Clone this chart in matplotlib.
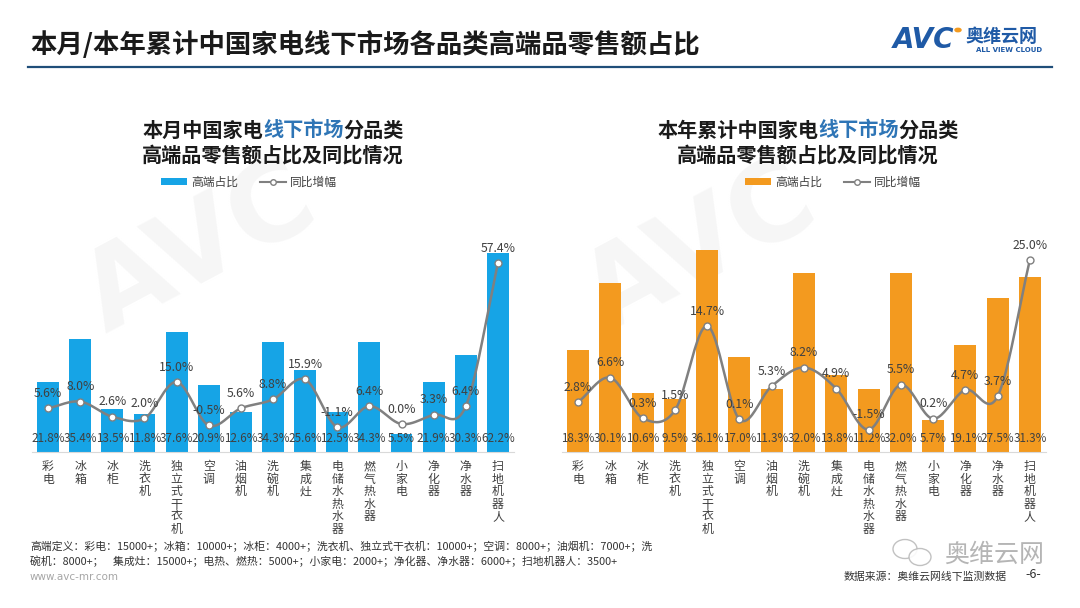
import numpy as np
import matplotlib
matplotlib.use("Agg")
import matplotlib.pyplot as plt
from matplotlib.patches import Patch, Ellipse
from matplotlib.lines import Line2D

plt.rcParams['font.family'] = ['Noto Sans CJK SC', 'DejaVu Sans']

categories = ['彩电', '冰箱', '冰柜', '洗衣机', '独立式干衣机', '空调', '油烟机', '洗碗机',
              '集成灶', '电储水热水器', '燃气热水器', '小家电', '净化器', '净水器', '扫地机器人']
month_share = [21.8, 35.4, 13.5, 11.8, 37.6, 20.9, 12.6, 34.3, 25.6, 12.5, 34.3, 5.5, 21.9, 30.3, 62.2]
month_yoy = [5.6, 8.0, 2.6, 2.0, 15.0, -0.5, 5.6, 8.8, 15.9, -1.1, 6.4, 0.0, 3.3, 6.4, 57.4]
ytd_share = [18.3, 30.1, 10.6, 9.5, 36.1, 17.0, 11.3, 32.0, 13.8, 11.2, 32.0, 5.7, 19.1, 27.5, 31.3]
ytd_yoy = [2.8, 6.6, 0.3, 1.5, 14.7, 0.1, 5.3, 8.2, 4.9, -1.5, 5.5, 0.2, 4.7, 3.7, 25.0]

BLUE = '#16A4E6'
ORANGE = '#F39A1F'
LINE = '#808080'
TXT = '#404040'
HILITE = '#2E75B6'

W, H = 1080, 608
fig = plt.figure(figsize=(W / 100, H / 100), dpi=100)
fig.patch.set_facecolor('white')


def fx(x):
    return x / W


def fy(y):
    return 1 - y / H


def smooth(xs, ys, n=24):
    xs = np.asarray(xs, float)
    ys = np.asarray(ys, float)
    m = len(xs)
    mx = np.zeros(m)
    my = np.zeros(m)
    for i in range(m):
        a = max(i - 1, 0)
        b = min(i + 1, m - 1)
        mx[i] = (xs[b] - xs[a]) / (b - a)
        my[i] = (ys[b] - ys[a]) / (b - a)
    ox, oy = [], []
    t = np.linspace(0, 1, n)
    h00 = 2 * t**3 - 3 * t**2 + 1
    h10 = t**3 - 2 * t**2 + t
    h01 = -2 * t**3 + 3 * t**2
    h11 = t**3 - t**2
    for i in range(m - 1):
        ox.append(h00 * xs[i] + h10 * mx[i] + h01 * xs[i + 1] + h11 * mx[i + 1])
        oy.append(h00 * ys[i] + h10 * my[i] + h01 * ys[i + 1] + h11 * my[i + 1])
    return np.concatenate(ox), np.concatenate(oy)


# Faint watermarks
for (x, y) in [(200, 250), (700, 250)]:
    fig.text(fx(x), fy(y), 'AVC', fontsize=80, fontweight='bold', color='#F6F6F6',
             rotation=28, ha='center', va='center', zorder=-5, family='DejaVu Sans')


def panel(left_px, right_px, share, yoy, color, bar_max, line_min, line_max):
    top, bottom = 228, 452
    ax = fig.add_axes([fx(left_px), fy(bottom), (right_px - left_px) / W, (bottom - top) / H])
    ax.set_facecolor('none')
    x = np.arange(len(categories))
    ax.bar(x, share, width=0.68, color=color, zorder=2)
    ax.set_xlim(-0.5, len(categories) - 0.5)
    ax.set_ylim(0, bar_max)
    for s in ['top', 'right', 'left']:
        ax.spines[s].set_visible(False)
    ax.spines['bottom'].set_color('#D9D9D9')
    ax.set_yticks([])
    ax.set_xticks(x)
    ax.set_xticklabels(['\n'.join(c) for c in categories], fontsize=8.6, color=TXT,
                       linespacing=0.95, va='top')
    ax.tick_params(axis='x', length=0, pad=6)
    for i, v in enumerate(share):
        ax.annotate(f'{v:.1f}%', xy=(i, 0), xytext=(0, 5), textcoords='offset points',
                    ha='center', va='bottom', fontsize=8.4, color=TXT, zorder=5)
    ax2 = ax.twinx()
    ax2.set_ylim(line_min, line_max)
    ax2.axis('off')
    sx, sy = smooth(x, yoy)
    ax2.plot(sx, sy, color=LINE, lw=1.8, zorder=3)
    ax2.plot(x, yoy, linestyle='none', marker='o', markersize=5, markerfacecolor='white',
             markeredgecolor=LINE, markeredgewidth=1.0, zorder=4)
    for i, v in enumerate(yoy):
        ax2.annotate(f'{v:.1f}%', xy=(i, v), xytext=(0, 6), textcoords='offset points',
                     ha='center', va='bottom', fontsize=8.8, color=TXT, zorder=5)
    return ax


panel(32, 514, month_share, month_yoy, BLUE, 70, -10, 70)
panel(562, 1046, ytd_share, ytd_yoy, ORANGE, 40, -5, 30)

# Header
fig.text(fx(30), fy(45), '本月/本年累计中国家电线下市场各品类高端品零售额占比', fontsize=19,
         fontweight='bold', color='#1A1A1A', ha='left', va='center')
fig.add_artist(Line2D([fx(28), fx(1052)], [fy(67), fy(67)], color='#1F4E79', lw=1.6))

# Logo
fig.text(fx(893), fy(40), 'AVC', fontsize=20, fontweight='bold', fontstyle='italic',
         color='#1F5AA6', ha='left', va='center', family='DejaVu Sans')
fig.add_artist(plt.Circle((fx(958), fy(30)), 0.0028, color='#F39A1F', transform=fig.transFigure))
fig.text(fx(965), fy(36), '奥维云网', fontsize=13, fontweight='bold', color='#1F5AA6',
         ha='left', va='center')
fig.text(fx(976), fy(50), 'ALL VIEW CLOUD', fontsize=5, fontweight='bold', color='#1F5AA6',
         ha='left', va='center', family='DejaVu Sans')

# Subtitles with coloured segment
fig.canvas.draw()
renderer = fig.canvas.get_renderer()


def multi_text(cx, y, parts, size):
    arts = []
    for t, c in parts:
        a = fig.text(0, fy(y), t, fontsize=size, fontweight='bold', color=c, ha='left', va='center')
        arts.append(a)
    widths = [a.get_window_extent(renderer).width for a in arts]
    total = sum(widths)
    x0 = cx - total / 2
    for a, w in zip(arts, widths):
        a.set_x(fx(x0))
        x0 += w


for cx, first in [(273, '本月中国家电'), (808, '本年累计中国家电')]:
    multi_text(cx, 130, [(first, '#1A1A1A'), ('线下市场', HILITE), ('分品类', '#1A1A1A')], 14.5)
    multi_text(cx, 155, [('高端品零售额占比及同比情况', '#1A1A1A')], 14.5)

# Legends
for cx, color in [(249, BLUE), (833, ORANGE)]:
    handles = [Patch(facecolor=color, edgecolor='none', label='高端占比'),
               Line2D([], [], color=LINE, lw=1.5, marker='o', markersize=4,
                      markerfacecolor='white', markeredgecolor=LINE, label='同比增幅')]
    fig.legend(handles=handles, loc='center', bbox_to_anchor=(fx(cx), fy(182)), ncol=2,
               frameon=False, fontsize=8.5, handlelength=2.2, handleheight=0.5,
               columnspacing=1.8, handletextpad=0.4, labelcolor=TXT)

# Footnotes
fig.text(fx(30), fy(546), '高端定义：彩电：15000+；冰箱：10000+；冰柜：4000+；洗衣机、独立式干衣机：10000+；空调：8000+；油烟机：7000+；洗',
         fontsize=7.8, color='#333333', ha='left', va='center')
fig.text(fx(30), fy(561), '碗机：8000+；    集成灶：15000+；电热、燃热：5000+；小家电：2000+；净化器、净水器：6000+；扫地机器人：3500+',
         fontsize=7.8, color='#333333', ha='left', va='center')
fig.text(fx(30), fy(577), 'www.avc-mr.com', fontsize=7.5, color='#A6A6A6', ha='left', va='center',
         family='DejaVu Sans')

# WeChat-style watermark
for (ex, ey, ew, eh) in [(905, 549, 24, 19), (920, 557, 22, 17)]:
    fig.add_artist(Ellipse((fx(ex), fy(ey)), ew / W, eh / H, transform=fig.transFigure,
                           facecolor='white', edgecolor='#BBBBBB', lw=1.0, alpha=0.9))
fig.text(fx(994), fy(555), '奥维云网', fontsize=18, color='#B5B5B5', ha='center', va='center')

fig.text(fx(1007), fy(577), '数据来源：奥维云网线下监测数据', fontsize=7.8, color='#333333',
         ha='right', va='center')
fig.text(fx(1033), fy(575), '-6-', fontsize=9, color='#333333', ha='center', va='center')

fig.savefig('out.png', dpi=100, facecolor='white')
